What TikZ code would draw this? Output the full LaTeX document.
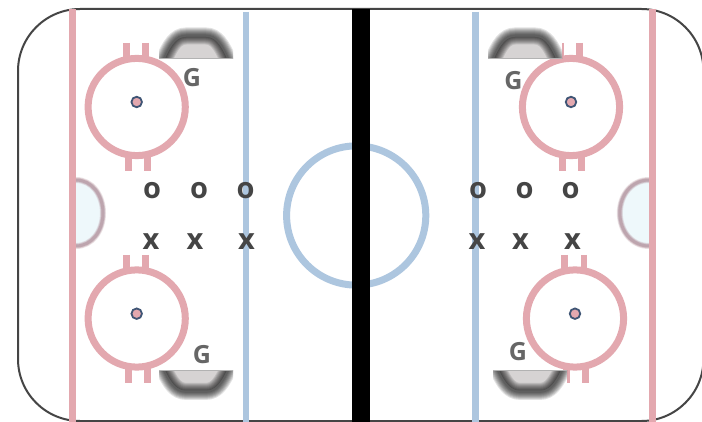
\documentclass[tikz,border=0pt]{standalone}
\usepackage{fontspec}
\setsansfont{Open Sans}
\definecolor{rinkred}{HTML}{E3A8AF}
\definecolor{rinkblue}{HTML}{ADC6DF}
\definecolor{dotblue}{HTML}{3F5575}
\definecolor{creasefill}{HTML}{EEF8FB}
\definecolor{creaseline}{HTML}{A9808C}
\definecolor{netfill}{HTML}{D6D3D3}
\tikzset{
  redline/.style={draw=rinkred,line width=6.7pt},
  blueline/.style={draw=rinkblue,line width=6.6pt},
  hashmark/.style={draw=rinkred,line width=6.6pt},
  faceoff/.style={draw=rinkred,line width=7pt},
  facedot/.style={circle,draw=dotblue,fill=rinkred,line width=1.8pt,minimum size=10.5pt,inner sep=0pt},
  player/.style={font=\sffamily\bfseries\fontsize{29}{29}\selectfont,text=black!73,inner sep=0pt},
  goalie/.style={font=\sffamily\bfseries\fontsize{25}{25}\selectfont,text=black!60,inner sep=0pt},
}
\newcommand{\goalnet}[3]{%
  \begin{scope}[shift={(#1,#2)},yscale=#3]
    \fill[white] (-37,0) rectangle (37,-32);
    \fill[netfill] (-31,0) .. controls (-25,-14) and (-19,-22) .. (-10,-22) -- (10,-22) .. controls (19,-22) and (25,-14) .. (31,0) -- cycle;
    \begin{scope}
      \clip (-37,0) rectangle (37,-33);
      \foreach \w in {17,15,13,11,9,7,5,3}
        \draw[black,opacity=.115,line width=\w pt] (-33,3) .. controls (-26,-14) and (-20,-23) .. (-10,-23) -- (10,-23) .. controls (20,-23) and (26,-14) .. (33,3);
    \end{scope}
    \fill[black!30] (-37,-.8) rectangle (37,0);
  \end{scope}}
\newcommand{\crease}[2]{%
  \begin{scope}[shift={(#1,213)},xscale=#2]
    \fill[creasefill] (0,-34) .. controls (17,-34) and (29,-19) .. (29,0) .. controls (29,19) and (17,34) .. (0,34) -- cycle;
    \foreach \w/\o in {6/.22,4.5/.3,3/.42}
      \draw[creaseline,opacity=\o,line width=\w pt] (0,-33) .. controls (16,-33) and (27,-18) .. (27,0) .. controls (27,18) and (16,33) .. (0,33);
  \end{scope}}
\begin{document}
\begin{tikzpicture}[x=1pt,y=-1pt]
  \useasboundingbox (0,0) rectangle (702,422);
  \clip (0,0) rectangle (702,422);
  \fill[white] (0,0) rectangle (702,422);
  % boards
  \draw[black!73,line width=2pt,rounded corners=62pt] (18,9) rectangle (703.5,421);
  % hash marks
  \foreach \x in {126.3,145.3,560.5,579.7} \draw[hashmark] (\x,43) -- (\x,62);
  \foreach \x in {128.3,147.3,562.3,581.7} \draw[hashmark] (\x,152) -- (\x,171);
  \foreach \x in {126.3,145.3,564.7,584} \draw[hashmark] (\x,255) -- (\x,274);
  \foreach \x in {128.3,147.3,566.6,585.7} \draw[hashmark] (\x,364) -- (\x,383);
  % face-off circles
  \draw[faceoff] (136.7,107) circle (48.6);
  \draw[faceoff] (136.7,318.5) circle (48.6);
  \draw[faceoff] (571,107) circle (48.6);
  \draw[faceoff] (575,318.5) circle (48.6);
  % nets
  \goalnet{196}{59}{1}
  \goalnet{525}{59}{1}
  \goalnet{196}{370}{-.93}
  \goalnet{530}{370}{-.93}
  % creases
  \crease{76}{1}
  \crease{649}{-1.08}
  % lines
  \draw[redline] (72.7,9) -- (72.7,422);
  \draw[redline] (652.3,9) -- (652.3,422);
  \draw[blueline] (246,12) -- (246,422);
  \draw[blueline] (475.3,12) -- (475.3,422);
  % centre
  \draw[rinkblue,line width=7pt] (356.2,215.5) circle (69.6);
  \fill[black] (352,9) rectangle (369.5,422);
  % face-off dots
  \node[facedot] (d1) at (136.7,102) {};
  \node[facedot] (d2) at (136.7,313.7) {};
  \node[facedot] (d3) at (571,102) {};
  \node[facedot] (d4) at (575,313.7) {};
  % players
  \node[player] (o1) at (152,191) {o};
  \node[player] (o2) at (199,191) {o};
  \node[player] (o3) at (245.5,191) {o};
  \node[player] (o4) at (478,191) {o};
  \node[player] (o5) at (524.5,191) {o};
  \node[player] (o6) at (570.5,191) {o};
  \node[player] (x1) at (151,241.5) {x};
  \node[player] (x2) at (195,241.5) {x};
  \node[player] (x3) at (246.5,241.5) {x};
  \node[player] (x4) at (477,241.5) {x};
  \node[player] (x5) at (520.5,241.5) {x};
  \node[player] (x6) at (572.5,241.5) {x};
  \node[goalie] (g1) at (192,78) {G};
  \node[goalie] (g2) at (202,355) {G};
  \node[goalie] (g3) at (513.5,81) {G};
  \node[goalie] (g4) at (518,351.5) {G};
\end{tikzpicture}
\end{document}
